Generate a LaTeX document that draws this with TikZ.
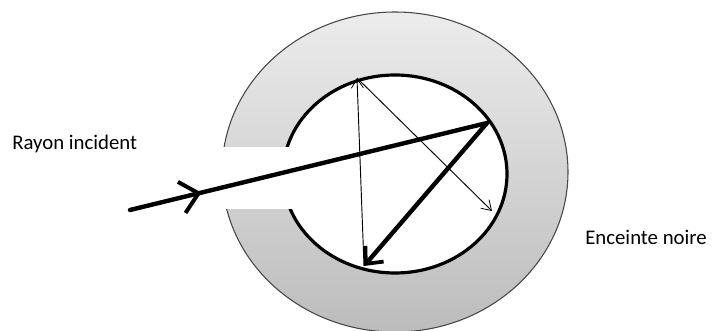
\documentclass[tikz,border=0pt]{standalone}
\usepackage{fontspec}
\setmainfont{Carlito}
\usetikzlibrary{arrows.meta,decorations.markings}
\definecolor{ringtop}{RGB}{236,236,236}
\definecolor{ringbot}{RGB}{188,188,188}
\definecolor{ringedge}{RGB}{70,70,70}
\tikzset{
  ring/.style={draw=ringedge, line width=0.8pt, top color=ringtop, bottom color=ringbot},
  cavity/.style={draw=black, line width=2.4pt, fill=white},
  gap/.style={fill=white, draw=none},
  thickray/.style={line width=3.3pt, line cap=round},
  thinray/.style={line width=0.7pt, -{Straight Barb[length=7pt,width=9pt,line width=0.6pt]}},
  lbl/.style={font=\fontsize{15.6}{18}\selectfont, inner sep=0pt, anchor=base west},
}
\begin{document}
\begin{tikzpicture}[x=0.75pt,y=-0.75pt]
\useasboundingbox (0,0) rectangle (715,331);
% outer enclosure
\path[ring] (395,172) ellipse [x radius=173, y radius=160];
% cavity
\path[cavity] (395,174) ellipse [x radius=112, y radius=99];
% opening
\path[gap] (218,147) rectangle (292,209);
% points
\coordinate (in) at (130,210);
\coordinate (P) at (487,123);
\coordinate (Q) at (364,266);
\coordinate (A) at (357,78);
\coordinate (R) at (492,211);
% incident ray
\draw[thickray, decoration={markings, mark=at position 0.2 with {\arrow{Straight Barb[length=13pt,width=24pt,line width=3pt]}}}, postaction={decorate}] (in) -- (P);
% reflected thick ray
\draw[thickray, -{Straight Barb[length=10pt,width=18pt,line width=2.8pt]}] (P) -- (Q);
% thin rays
\draw[thinray] (Q) -- (A);
\draw[thinray] (A) -- (R);
% labels
\node[lbl] (lin) at (12,150) {Rayon incident};
\node[lbl] (lenc) at (585,245) {Enceinte noire};
\end{tikzpicture}
\end{document}
